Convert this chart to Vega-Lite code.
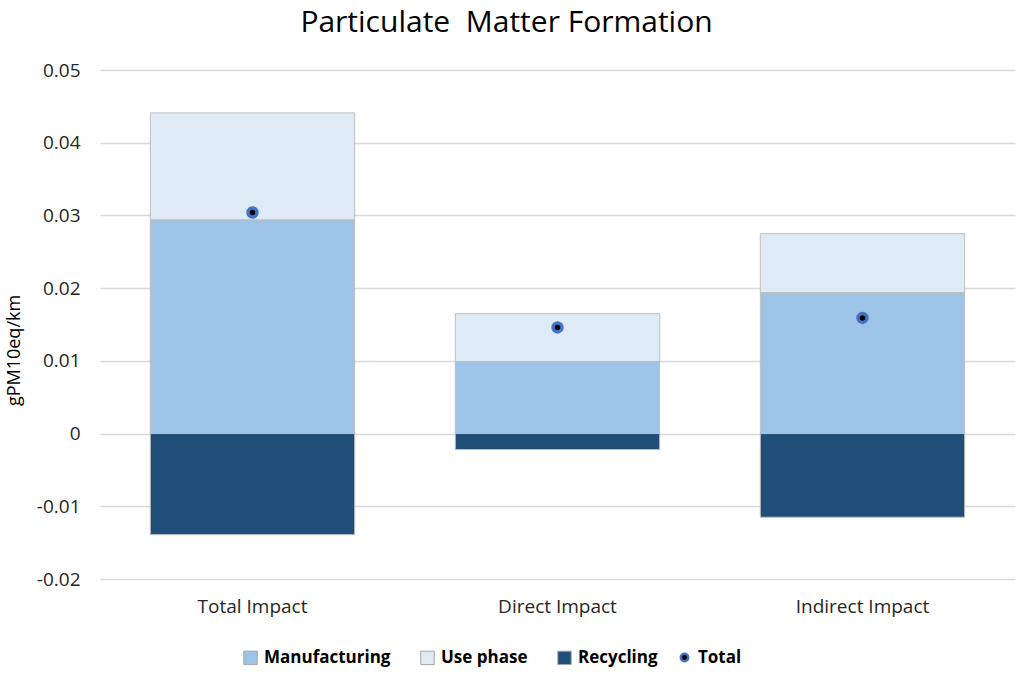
{
  "$schema": "https://vega.github.io/schema/vega-lite/v6.json",
  "width": 915,
  "height": 509,
  "autosize": {"type": "none"},
  "padding": {"left": 100, "top": 70, "right": 9, "bottom": 96},
  "background": "white",
  "config": {
    "view": {"stroke": null},
    "font": "Open Sans"
  },
  "title": {
    "text": "Particulate\u00a0 Matter Formation",
    "fontSize": 30,
    "fontWeight": "normal",
    "font": "Open Sans",
    "color": "#000000",
    "anchor": "middle",
    "dx": -51,
    "offset": 23
  },
  "datasets": {
    "parts": [
      {"category": "Total Impact", "component": "Manufacturing", "value": 0.0294, "ord": 1},
      {"category": "Total Impact", "component": "Use phase", "value": 0.0147, "ord": 2},
      {"category": "Total Impact", "component": "Recycling", "value": -0.0139, "ord": 3},
      {"category": "Direct Impact", "component": "Manufacturing", "value": 0.0099, "ord": 1},
      {"category": "Direct Impact", "component": "Use phase", "value": 0.0066, "ord": 2},
      {"category": "Direct Impact", "component": "Recycling", "value": -0.0022, "ord": 3},
      {"category": "Indirect Impact", "component": "Manufacturing", "value": 0.0194, "ord": 1},
      {"category": "Indirect Impact", "component": "Use phase", "value": 0.0081, "ord": 2},
      {"category": "Indirect Impact", "component": "Recycling", "value": -0.0115, "ord": 3}
    ],
    "totals": [
      {"category": "Total Impact", "total": 0.0304, "series": "Total"},
      {"category": "Direct Impact", "total": 0.0146, "series": "Total"},
      {"category": "Indirect Impact", "total": 0.0159, "series": "Total"}
    ]
  },
  "layer": [
    {
      "data": {"name": "parts"},
      "mark": {"type": "bar", "stroke": "#BFBFBF", "strokeWidth": 1},
      "encoding": {
        "x": {
          "field": "category",
          "type": "nominal",
          "sort": ["Total Impact", "Direct Impact", "Indirect Impact"],
          "scale": {"paddingInner": 0.33, "paddingOuter": 0.165},
          "axis": {
            "title": null,
            "labelAngle": 0,
            "labelFontSize": 19,
            "labelColor": "#262626",
            "labelPadding": 18,
            "ticks": false,
            "domain": false
          }
        },
        "y": {
          "field": "value",
          "type": "quantitative",
          "stack": "zero",
          "scale": {"domain": [-0.02, 0.05], "nice": false, "zero": false},
          "axis": {
            "title": "gPM10eq/km",
            "titleFontSize": 18,
            "titleFontWeight": "normal",
            "titleColor": "#000000",
            "titlePadding": 13,
            "titleY": 280,
            "values": [-0.02, -0.01, 0, 0.01, 0.02, 0.03, 0.04, 0.05],
            "labelExpr": "abs(datum.value) < 1e-9 ? '0' : replace(format(datum.value, '.2f'), '\u2212', '-')",
            "labelFontSize": 19,
            "labelColor": "#262626",
            "labelPadding": 20,
            "ticks": false,
            "domain": false,
            "gridColor": "#D9D9D9",
            "gridWidth": 1.3
          }
        },
        "color": {
          "field": "component",
          "type": "nominal",
          "scale": {
            "domain": ["Manufacturing", "Use phase", "Recycling"],
            "range": ["#9DC3E6", "#DEEBF7", "#1F4E79"]
          },
          "legend": {
            "title": null,
            "orient": "none",
            "direction": "horizontal",
            "legendX": 142,
            "legendY": 579,
            "labelFontSize": 17,
            "labelFontWeight": "bold",
            "labelColor": "#000000",
            "symbolType": "square",
            "symbolSize": 180,
            "symbolStrokeColor": "#A6A6A6",
            "symbolStrokeWidth": 1,
            "columnPadding": 27,
            "labelOffset": 5
          }
        },
        "order": {"field": "ord", "type": "quantitative"}
      }
    },
    {
      "data": {"name": "totals"},
      "mark": {"type": "point", "filled": true, "strokeWidth": 3.5, "size": 80, "opacity": 1},
      "encoding": {
        "x": {"field": "category", "type": "nominal", "sort": ["Total Impact", "Direct Impact", "Indirect Impact"]},
        "y": {"field": "total", "type": "quantitative"},
        "fill": {
          "field": "series",
          "type": "nominal",
          "scale": {"domain": ["Total"], "range": ["#000000"]},
          "legend": null
        },
        "stroke": {
          "field": "series",
          "type": "nominal",
          "scale": {"domain": ["Total"], "range": ["#4472C4"]},
          "legend": null
        },
        "shape": {
          "field": "series",
          "type": "nominal",
          "scale": {"domain": ["Total"], "range": ["circle"]},
          "legend": {
            "title": null,
            "orient": "none",
            "legendX": 576,
            "legendY": 579,
            "labelFontSize": 17,
            "labelFontWeight": "bold",
            "labelColor": "#000000",
            "symbolSize": 55,
            "symbolFillColor": "#BDD7EE",
            "symbolStrokeColor": "#4472C4",
            "symbolStrokeWidth": 2.5,
            "labelOffset": 5
          }
        }
      }
    }
  ]
}
